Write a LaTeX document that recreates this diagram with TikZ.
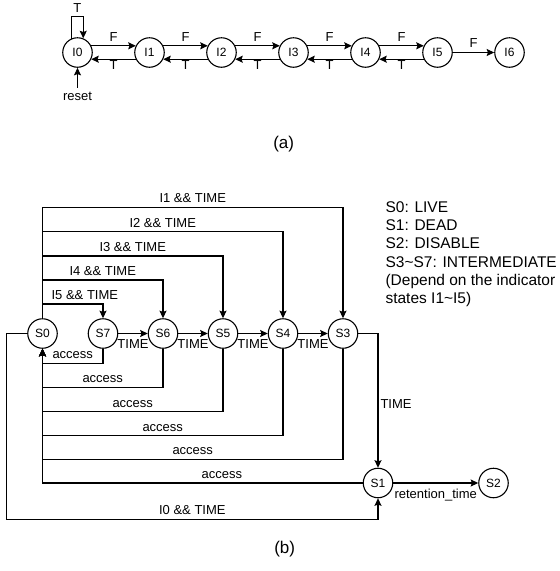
\documentclass[tikz,border=0pt]{standalone}
\usepackage{fontspec}
\setmainfont{Liberation Sans}
\usetikzlibrary{arrows.meta}
\begin{document}
\begin{tikzpicture}[x=1pt, y=-1pt, line width=1.1pt,
    >={Stealth[length=7.5pt, width=7pt, inset=1.2pt]},
    state/.style={circle, draw, minimum size=29.5pt, inner sep=0pt, font=\fontsize{12}{14}\selectfont},
    lbl/.style={inner sep=1pt, text height=.75em, text depth=.25em, font=\fontsize{13}{15}\selectfont},
    capt/.style={font=\fontsize{17}{20}\selectfont}]
  \useasboundingbox (0,0) rectangle (560,571);
  % (a) indicator states
  \foreach \i in {0,...,6}
    \node[state] (I\i) at (77.5+72*\i, 52.5) {I\i};
  \foreach \i [count=\j] in {0,...,4} {
    \draw[->] (I\i.26) -- node[lbl, above=0.5pt] {F} (I\j.154);
    \draw[->] (I\j.206) -- node[lbl, below=1.2pt] {T} (I\i.334);
  }
  \draw[->] (I5) -- node[lbl, above=0.5pt] {F} (I6);
  \coordinate (looptop) at (77.5,16.7);
  \draw[->] (I0.114) -- (I0.114 |- looptop) -- node[lbl, above=0.5pt] {T} (I0.68 |- looptop) -- (I0.68);
  \node[lbl, inner ysep=5pt, anchor=north] (reset) at (77.5,87.5) {reset};
  \draw[->] (reset) -- (I0);
  \node[capt] (capa) at (283.7,144.3) {(a)};
  % (b) life-cycle states
  \foreach \s/\x in {S0/42.5, S7/103, S6/163, S5/223, S4/283, S3/343}
    \node[state] (\s) at (\x, 333.5) {\s};
  \node[state] (S1) at (378,483) {S1};
  \node[state] (S2) at (493.5,483) {S2};
  \foreach \a/\b in {S7/S6, S6/S5, S5/S4, S4/S3}
    \draw[->] (\a) -- node[lbl, below=6.3pt] {TIME} (\b);
  % indicator transitions out of S0
  \foreach \s/\k/\y/\p in {S3/1/207.3/0.5, S4/2/231.7/0.5, S5/3/256/0.5, S6/4/280/0.5, S7/5/304/0.7}
    \draw[->] (S0.north) -- (S0.north |- 0,\y) -- node[lbl, above=0.5pt, pos=\p] {I\k{} \&\& TIME} (\s.north |- 0,\y) -- (\s.north);
  % access back to S0
  \foreach \s/\y in {S7/363.3, S6/387.3, S5/411.7, S4/435.7, S3/459.3}
    \draw[->] (\s.south) |- node[lbl, above=0.5pt, pos=0.75] {access} (S0.south |- 0,\y) -- (S0.south);
  \draw[->] (S1.west) -| node[lbl, above=0.5pt, pos=0.22] {access} (S0.south);
  \draw[->] (S3.east) -| node[lbl, right=1pt, pos=0.77] {TIME} (S1.north);
  \draw[->] (S1) -- node[lbl, below=6pt] {retention\_time} (S2);
  \coordinate (lowleft) at (6.7,519.3);
  \draw[->] (S0.west) -| (lowleft) -| node[lbl, above=0.5pt, pos=0.25] {I0 \&\& TIME} (S1.south);
  \node[anchor=north west, inner sep=0pt, align=left, font=\fontsize{15.5}{18.3}\selectfont] (legend) at (385,201)
    {S0: LIVE\\S1: DEAD\\S2: DISABLE\\S3\textasciitilde S7: INTERMEDIATE\\(Depend on the indicator\\states I1\textasciitilde I5)};
  \node[capt] (capb) at (284.7,549.3) {(b)};
\end{tikzpicture}
\end{document}
